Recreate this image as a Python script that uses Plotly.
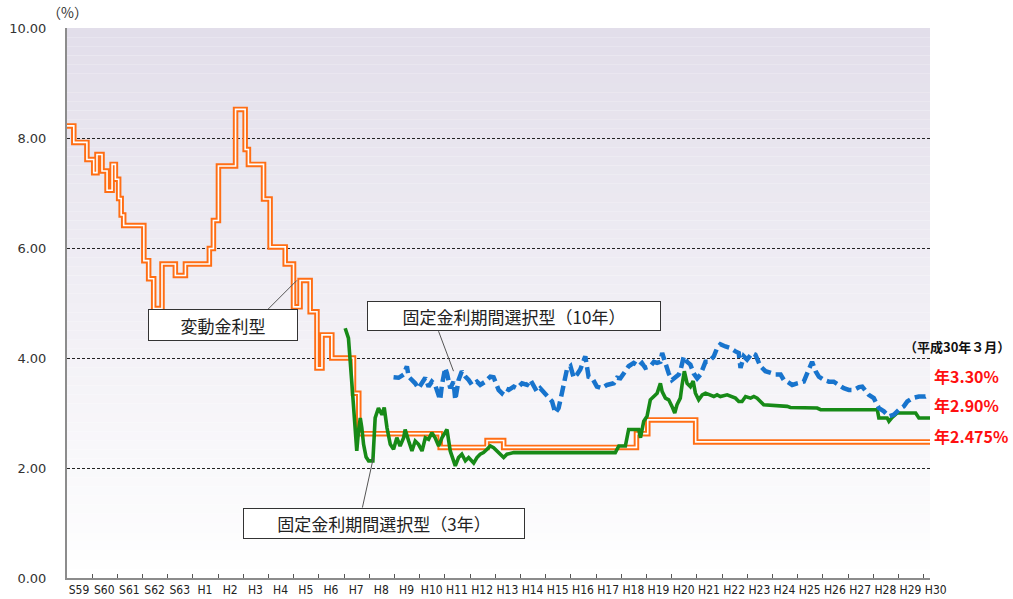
import plotly.graph_objects as go

# ---------------- data ----------------
year_ticks = list(range(1984, 2019))
year_labels = ["S59", "S60", "S61", "S62", "S63", "H1", "H2", "H3", "H4", "H5", "H6", "H7",
               "H8", "H9", "H10", "H11", "H12", "H13", "H14", "H15", "H16", "H17", "H18",
               "H19", "H20", "H21", "H22", "H23", "H24", "H25", "H26", "H27", "H28", "H29", "H30"]

y_ticks = [0, 2, 4, 6, 8, 10]
y_labels = ["0.00", "2.00", "4.00", "6.00", "8.00", "10.00"]

# 変動金利型 (step series)
var_years = [1984.0, 1984.27, 1984.79, 1985.06, 1985.19, 1985.39, 1985.59, 1985.79, 1985.92,
             1986.05, 1986.15, 1986.25, 1987.05, 1987.24, 1987.44, 1987.77, 1988.3, 1988.7,
             1989.65, 1989.81, 1990.01, 1990.69, 1991.07, 1991.2, 1991.8, 1992.06, 1992.66,
             1992.99, 1993.25, 1993.65, 1993.92, 1994.12, 1994.51, 1995.37, 1995.58, 1998.81,
             2000.67, 2001.33, 2006.6, 2007.05, 2008.95, 2018.25]
var_rates = [8.22, 7.92, 7.61, 7.37, 7.70, 7.40, 7.05, 7.52, 7.25,
             6.9, 6.6, 6.41, 5.77, 5.44, 4.90, 5.71, 5.50, 5.71,
             5.99, 6.50, 7.49, 8.52, 7.79, 7.52, 6.89, 6.02, 5.71,
             4.93, 5.41, 4.84, 3.82, 4.42, 4.00, 3.36, 2.625, 2.375,
             2.5, 2.375, 2.625, 2.875, 2.475, 2.475]

# 固定金利期間選択型(3年)
fix3_years = [1995.04, 1995.17, 1995.31, 1995.44, 1995.50, 1995.57, 1995.64, 1995.70, 1995.77,
              1995.87, 1995.97, 1996.14, 1996.23, 1996.36, 1996.50, 1996.59, 1996.70, 1996.83,
              1996.96, 1997.09, 1997.22, 1997.36, 1997.42, 1997.56, 1997.69, 1997.82, 1997.95,
              1998.09, 1998.22, 1998.35, 1998.48, 1998.61, 1998.75, 1998.88, 1999.08, 1999.21,
              1999.41, 1999.54, 1999.67, 1999.81, 1999.94, 2000.14, 2000.27, 2000.40, 2000.53,
              2000.67, 2000.80, 2000.93, 2001.06, 2001.20, 2001.33, 2001.46, 2001.73, 2005.76,
              2005.90, 2006.16, 2006.29, 2006.69, 2006.76, 2006.89, 2007.02, 2007.15, 2007.29,
              2007.42, 2007.55, 2007.62, 2007.75, 2007.88, 2008.01, 2008.12, 2008.21, 2008.34,
              2008.41, 2008.50, 2008.61, 2008.74, 2008.85, 2008.94, 2009.07, 2009.21, 2009.34,
              2009.47, 2009.67, 2009.80, 2009.93, 2010.20, 2010.53, 2010.66, 2010.79, 2010.93,
              2011.13, 2011.26, 2011.39, 2011.52, 2011.65, 2012.58, 2012.71, 2013.77, 2013.91,
              2016.16, 2016.22, 2016.55, 2016.62, 2016.75, 2016.95, 2017.15, 2017.68, 2017.81,
              2018.25]
fix3_rates = [4.54, 4.36, 3.51, 2.73, 2.31, 2.68, 2.91, 2.73, 2.43,
              2.20, 2.13, 2.13, 2.91, 3.09, 2.97, 3.10, 2.73, 2.43,
              2.34, 2.55, 2.40, 2.55, 2.70, 2.49, 2.31, 2.49, 2.43,
              2.31, 2.55, 2.52, 2.64, 2.55, 2.40, 2.55, 2.70, 2.31,
              2.04, 2.19, 2.25, 2.13, 2.19, 2.09, 2.19, 2.25, 2.28,
              2.34, 2.40, 2.37, 2.31, 2.25, 2.19, 2.25, 2.28, 2.28,
              2.40, 2.40, 2.70, 2.70, 2.55, 2.85, 2.94, 3.24, 3.30,
              3.36, 3.54, 3.39, 3.27, 3.24, 3.12, 3.00, 3.15, 3.27,
              3.51, 3.76, 3.54, 3.48, 3.58, 3.36, 3.24, 3.33, 3.36,
              3.33, 3.30, 3.33, 3.30, 3.33, 3.27, 3.21, 3.21, 3.30,
              3.27, 3.30, 3.27, 3.21, 3.15, 3.12, 3.10, 3.09, 3.06,
              3.06, 2.91, 2.91, 2.85, 2.92, 3.00, 3.00, 3.00, 2.91,
              2.91]

# 固定金利期間選択型(10年)
fix10_years = [1996.96, 1997.16, 1997.36, 1997.49, 1997.56, 1997.69, 1997.82, 1997.95, 1998.09,
               1998.22, 1998.35, 1998.48, 1998.61, 1998.75, 1998.81, 1998.88, 1999.01, 1999.08,
               1999.21, 1999.34, 1999.41, 1999.54, 1999.67, 1999.81, 1999.94, 2000.07, 2000.27,
               2000.40, 2000.60, 2000.80, 2000.93, 2001.13, 2001.26, 2001.39, 2001.53, 2001.73,
               2001.86, 2002.06, 2002.26, 2002.39, 2002.52, 2002.65, 2002.78, 2002.98, 2003.12,
               2003.25, 2003.38, 2003.51, 2003.64, 2003.71, 2003.84, 2003.98, 2004.11, 2004.24,
               2004.37, 2004.57, 2004.64, 2004.70, 2004.84, 2005.03, 2005.23, 2005.43, 2005.70,
               2005.83, 2005.96, 2006.16, 2006.29, 2006.49, 2006.69, 2006.82, 2006.95, 2007.15,
               2007.29, 2007.42, 2007.55, 2007.62, 2007.75, 2007.88, 2008.01, 2008.15, 2008.28,
               2008.34, 2008.48, 2008.61, 2008.74, 2008.87, 2009.01, 2009.14, 2009.34, 2009.47,
               2009.67, 2009.80, 2009.93, 2010.13, 2010.33, 2010.53, 2010.66, 2010.73, 2010.86,
               2010.99, 2011.19, 2011.32, 2011.39, 2011.52, 2011.72, 2011.92, 2012.12, 2012.32,
               2012.45, 2012.58, 2012.78, 2012.98, 2013.24, 2013.44, 2013.57, 2013.71, 2013.84,
               2014.04, 2014.24, 2014.43, 2014.63, 2014.83, 2015.03, 2015.23, 2015.43, 2015.56,
               2015.82, 2016.02, 2016.22, 2016.42, 2016.62, 2016.82, 2017.02, 2017.21, 2017.35,
               2017.55, 2017.81, 2018.07, 2018.21]
fix10_rates = [3.65, 3.64, 3.70, 3.85, 3.66, 3.60, 3.54, 3.45, 3.57,
               3.64, 3.48, 3.57, 3.51, 3.33, 3.24, 3.51, 3.82, 3.72,
               3.45, 3.57, 3.24, 3.60, 3.76, 3.66, 3.60, 3.51, 3.57,
               3.51, 3.57, 3.66, 3.65, 3.42, 3.36, 3.45, 3.42, 3.48,
               3.45, 3.54, 3.51, 3.60, 3.48, 3.39, 3.45, 3.36, 3.27,
               3.21, 3.00, 3.09, 3.36, 3.54, 3.79, 3.85, 3.64, 3.70,
               3.79, 4.03, 3.82, 3.66, 3.64, 3.48, 3.45, 3.51, 3.54,
               3.64, 3.63, 3.76, 3.85, 3.91, 3.85, 3.91, 3.82, 3.85,
               3.93, 3.91, 3.93, 4.09, 3.88, 3.72, 3.60, 3.66, 3.70,
               3.76, 4.03, 3.93, 3.88, 3.72, 3.63, 3.70, 3.93, 3.93,
               4.03, 4.18, 4.25, 4.21, 4.18, 4.12, 4.09, 3.82, 4.03,
               3.97, 4.09, 4.06, 4.00, 3.85, 3.76, 3.72, 3.70, 3.70,
               3.60, 3.57, 3.51, 3.54, 3.57, 3.79, 3.93, 3.76, 3.66,
               3.60, 3.57, 3.57, 3.51, 3.45, 3.42, 3.42, 3.47, 3.48,
               3.33, 3.27, 3.09, 3.03, 2.94, 2.97, 3.06, 3.12, 3.21,
               3.27, 3.30, 3.30, 3.33]

series_names = ["変動金利型", "固定金利期間選択型（3年）", "固定金利期間選択型（10年）"]
latest_labels = ["年3.30%", "年2.90%", "年2.475%"]
latest_note = "（平成30年３月）"

# ---------------- styles ----------------
ORANGE = "#ff6e14"
GREEN = "#178a17"
BLUE = "#1874cd"
JP = "Noto Sans CJK JP"
NARROW = "Liberation Sans Narrow, DejaVu Sans Condensed, Arial Narrow, sans-serif"

fig = go.Figure()

# variable rate: orange double line (orange outline + white core)
fig.add_trace(go.Scatter(x=var_years, y=var_rates, mode="lines", line_shape="hv",
                         line=dict(color=ORANGE, width=5.5), hoverinfo="skip", showlegend=False))
fig.add_trace(go.Scatter(x=var_years, y=var_rates, mode="lines", line_shape="hv",
                         line=dict(color="white", width=1.6), name=series_names[0], showlegend=False))
# 3-year fixed
fig.add_trace(go.Scatter(x=fix3_years, y=fix3_rates, mode="lines",
                         line=dict(color=GREEN, width=3.6), name=series_names[1], showlegend=False))
# 10-year fixed (dashed)
fig.add_trace(go.Scatter(x=fix10_years, y=fix10_rates, mode="lines",
                         line=dict(color=BLUE, width=4.5, dash="11px,5px"),
                         name=series_names[2], showlegend=False))

# background gradient (lavender top -> white bottom)
shapes = []
N = 60
top = (226, 222, 234)
bot = (255, 255, 255)
for i in range(N):
    t = (i + 0.5) / N
    c = tuple(round(bot[k] + (top[k] - bot[k]) * t) for k in range(3))
    shapes.append(dict(type="rect", xref="paper", yref="y", x0=0, x1=1,
                       y0=10 * i / N, y1=10 * (i + 1) / N, layer="below",
                       line=dict(width=0), fillcolor="rgb(%d,%d,%d)" % c))

# callout leader lines (anchored on the series, pixel offsets)
leaders = [
    (1993.12, 5.41, -30, -30),
    (1999.34, 3.76, -15, 40),
    (1996.16, 2.19, -11, -50),
]
for xa, ya, dx, dy in leaders:
    shapes.append(dict(type="line", xref="x", yref="y", xsizemode="pixel", ysizemode="pixel",
                       xanchor=xa, yanchor=ya, x0=0, y0=0, x1=dx, y1=dy,
                       line=dict(color="#555555", width=1)))

annotations = []
# callout boxes
boxes = [
    (series_names[0], 1990.18, 4.60, 148, 30),
    (series_names[2], 2001.75, 4.765, 292, 28),
    (series_names[1], 1996.59, 1.00, 280, 29),
]
for txt, bx, by, w, h in boxes:
    annotations.append(dict(text=txt, x=bx, y=by, xref="x", yref="y", showarrow=False,
                            xanchor="center", yanchor="middle", width=w, height=h,
                            bgcolor="white", bordercolor="#333333", borderwidth=1, borderpad=0,
                            font=dict(family=JP, size=17, color="#222222")))

# unit label
annotations.append(dict(text="（%）", x=0, y=1, xref="paper", yref="paper", xanchor="center",
                        yanchor="bottom", yshift=4, showarrow=False,
                        font=dict(family=JP, size=14, color="#333333")))
# latest values at the right
annotations.append(dict(text="<b>" + latest_note + "</b>", x=1.031, y=4.21, xref="paper", yref="y",
                        xanchor="center", yanchor="middle", showarrow=False,
                        font=dict(family=JP, size=13, color="#111111")))
for txt, yy in zip(latest_labels, [3.67, 3.15, 2.59]):
    annotations.append(dict(text="<b>" + txt + "</b>", x=1.002, y=yy, xref="paper", yref="y",
                            xanchor="left", yanchor="middle", showarrow=False,
                            font=dict(family=JP, size=16, color="#ff1010")))

fig.update_layout(
    width=1013, height=599,
    margin=dict(l=67, r=83, t=28, b=21),
    paper_bgcolor="white", plot_bgcolor="white",
    shapes=shapes, annotations=annotations, showlegend=False,
    xaxis=dict(range=[1984, 2018.25], tickmode="array", tickvals=year_ticks, ticktext=year_labels,
               ticks="inside", ticklen=4, tickwidth=1, tickcolor="#555555",
               ticklabelshift=12, ticklabelstandoff=0, tickangle=0, automargin=False,
               showline=True, linecolor="#8c8c8c", linewidth=2, showgrid=False, zeroline=False,
               tickfont=dict(family=NARROW, size=12, color="#222222")),
    yaxis=dict(range=[0, 10], tickmode="array", tickvals=y_ticks, ticktext=y_labels,
               showgrid=True, gridcolor="#222222", gridwidth=1, griddash="3px,2px",
               showline=True, linecolor="#8c8c8c", linewidth=2, zeroline=False,
               ticks="", ticklabelstandoff=16, automargin=False,
               tickfont=dict(family="DejaVu Sans", size=13, color="#333333")),
)

fig.write_html("out.html", config={"displayModeBar": False},
               post_script="document.body.style.margin='0';document.body.style.overflow='hidden';")
